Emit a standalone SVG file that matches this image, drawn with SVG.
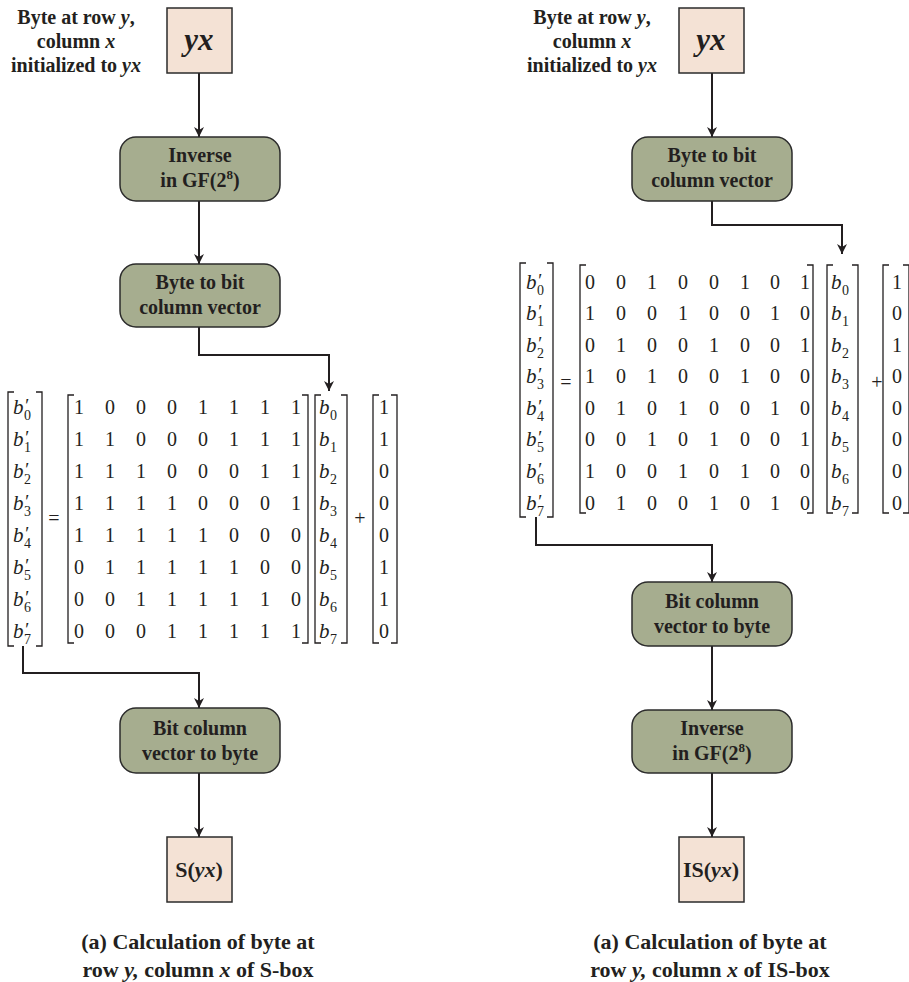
<svg xmlns="http://www.w3.org/2000/svg" width="909" height="982" viewBox="0 0 909 982">
<style>
.bx{fill:#f4e2d5;stroke:#2b2b2b;stroke-width:1.5}
.rb{fill:#a6ad8f;stroke:#2b2b2b;stroke-width:1.5}
.t{font-family:"Liberation Serif",serif;font-weight:bold;font-size:20px;fill:#231f20;text-anchor:middle}
.big{font-family:"Liberation Serif",serif;font-weight:bold;font-style:italic;font-size:31px;fill:#231f20;text-anchor:middle}
.res{font-family:"Liberation Serif",serif;font-weight:bold;font-size:22px;fill:#231f20;text-anchor:middle}
.lab{font-family:"Liberation Serif",serif;font-weight:bold;font-size:20px;fill:#231f20;text-anchor:middle}
.cap{font-family:"Liberation Serif",serif;font-weight:bold;font-size:22px;fill:#231f20;text-anchor:middle}
.m{font-family:"Liberation Serif",serif;font-size:20px;fill:#231f20;text-anchor:middle}
.v{font-family:"Liberation Serif",serif;font-size:21px;font-style:italic;fill:#231f20}
.p{font-size:19px;font-style:italic}
.s{font-size:14px;font-style:normal}
.br{fill:none;stroke:#231f20;stroke-width:1.3}
.c{fill:none;stroke:#231f20;stroke-width:2}
</style>
<defs>
<marker id="ah" viewBox="0 0 10 10" refX="10" refY="5" markerWidth="10" markerHeight="10" markerUnits="userSpaceOnUse" orient="auto">
<path d="M0,0 L10,5 L0,10 L3,5 z" fill="#231f20"/>
</marker>
</defs>

<!-- connectors -->
<g id="connectors">
<path class="c" d="M199,73 V137" marker-end="url(#ah)"/>
<path class="c" d="M199,201 V264" marker-end="url(#ah)"/>
<path class="c" d="M199,327 V355 H329 V391" marker-end="url(#ah)"/>
<path class="c" d="M23,646 V673 H199 V708" marker-end="url(#ah)"/>
<path class="c" d="M199,773 V837" marker-end="url(#ah)"/>
<path class="c" d="M712,73 V137" marker-end="url(#ah)"/>
<path class="c" d="M712,201 V225 H842 V254" marker-end="url(#ah)"/>
<path class="c" d="M536,517 V545 H712 V582" marker-end="url(#ah)"/>
<path class="c" d="M712,646 V710" marker-end="url(#ah)"/>
<path class="c" d="M712,773 V837" marker-end="url(#ah)"/>
</g>

<!-- LEFT PANEL -->
<g id="label-left">
<text class="lab" x="76" y="24">Byte at row <tspan font-style="italic">y</tspan>,</text>
<text class="lab" x="76" y="48">column <tspan font-style="italic">x</tspan></text>
<text class="lab" x="76" y="72">initialized to <tspan font-style="italic">yx</tspan></text>
</g>
<g id="yx-left">
<rect class="bx" x="167" y="8" width="65" height="65"/>
<text class="big" x="199" y="50">yx</text>
</g>
<g id="inverse-left">
<rect class="rb" x="120" y="137" width="160" height="64" rx="16"/>
<text class="t" x="200" y="162">Inverse</text>
<text class="t" x="200" y="187">in GF(2<tspan font-size="13" dy="-8">8</tspan><tspan dy="8">)</tspan></text>
</g>
<g id="b2c-left">
<rect class="rb" x="120" y="264" width="160" height="63" rx="16"/>
<text class="t" x="200" y="289">Byte to bit</text>
<text class="t" x="200" y="314">column vector</text>
</g>
<g id="matrix-left">
<path class="br" d="M14,392 H8 V646 H14 M36,392 H42 V646 H36"/>
<path class="br" d="M74,395 H68 V643 H74 M302,395 H308 V643 H302"/>
<path class="br" d="M321,395 H315 V643 H321 M341,395 H347 V643 H341"/>
<path class="br" d="M379,395 H373 V643 H379 M391,395 H397 V643 H391"/>
<text class="m" x="54" y="525">=</text>
<text class="m" x="360" y="525">+</text>
<g class="m">
<text x="79 110 141 172 203 234 265 296" y="414">10001111</text>
<text x="79 110 141 172 203 234 265 296" y="446">11000111</text>
<text x="79 110 141 172 203 234 265 296" y="478">11100011</text>
<text x="79 110 141 172 203 234 265 296" y="510">11110001</text>
<text x="79 110 141 172 203 234 265 296" y="542">11111000</text>
<text x="79 110 141 172 203 234 265 296" y="574">01111100</text>
<text x="79 110 141 172 203 234 265 296" y="606">00111110</text>
<text x="79 110 141 172 203 234 265 296" y="638">00011111</text>
<text x="384" y="414">1</text>
<text x="384" y="446">1</text>
<text x="384" y="478">0</text>
<text x="384" y="510">0</text>
<text x="384" y="542">0</text>
<text x="384" y="574">1</text>
<text x="384" y="606">1</text>
<text x="384" y="638">0</text>
</g>
<g class="v">
<text x="13" y="414">b<tspan class="p" x="24" dy="-2">′</tspan><tspan class="s" x="24" dy="8">0</tspan></text>
<text x="13" y="446">b<tspan class="p" x="24" dy="-2">′</tspan><tspan class="s" x="24" dy="8">1</tspan></text>
<text x="13" y="478">b<tspan class="p" x="24" dy="-2">′</tspan><tspan class="s" x="24" dy="8">2</tspan></text>
<text x="13" y="510">b<tspan class="p" x="24" dy="-2">′</tspan><tspan class="s" x="24" dy="8">3</tspan></text>
<text x="13" y="542">b<tspan class="p" x="24" dy="-2">′</tspan><tspan class="s" x="24" dy="8">4</tspan></text>
<text x="13" y="574">b<tspan class="p" x="24" dy="-2">′</tspan><tspan class="s" x="24" dy="8">5</tspan></text>
<text x="13" y="606">b<tspan class="p" x="24" dy="-2">′</tspan><tspan class="s" x="24" dy="8">6</tspan></text>
<text x="13" y="638">b<tspan class="p" x="24" dy="-2">′</tspan><tspan class="s" x="24" dy="8">7</tspan></text>
</g>
<g class="v">
<text x="319" y="414">b<tspan class="s" x="330" dy="6">0</tspan></text>
<text x="319" y="446">b<tspan class="s" x="330" dy="6">1</tspan></text>
<text x="319" y="478">b<tspan class="s" x="330" dy="6">2</tspan></text>
<text x="319" y="510">b<tspan class="s" x="330" dy="6">3</tspan></text>
<text x="319" y="542">b<tspan class="s" x="330" dy="6">4</tspan></text>
<text x="319" y="574">b<tspan class="s" x="330" dy="6">5</tspan></text>
<text x="319" y="606">b<tspan class="s" x="330" dy="6">6</tspan></text>
<text x="319" y="638">b<tspan class="s" x="330" dy="6">7</tspan></text>
</g>
</g>
<g id="c2b-left">
<rect class="rb" x="120" y="708" width="160" height="65" rx="16"/>
<text class="t" x="200" y="735">Bit column</text>
<text class="t" x="200" y="760">vector to byte</text>
</g>
<g id="s-left">
<rect class="bx" x="167" y="837" width="65" height="65"/>
<text class="res" x="199" y="877">S(<tspan font-style="italic">yx</tspan>)</text>
</g>
<g id="caption-left">
<text class="cap" x="198" y="949">(a) Calculation of byte at</text>
<text class="cap" x="198" y="977">row <tspan font-style="italic">y,</tspan> column <tspan font-style="italic">x</tspan> of S-box</text>
</g>

<!-- RIGHT PANEL -->
<g id="label-right">
<text class="lab" x="592" y="24">Byte at row <tspan font-style="italic">y</tspan>,</text>
<text class="lab" x="592" y="48">column <tspan font-style="italic">x</tspan></text>
<text class="lab" x="592" y="72">initialized to <tspan font-style="italic">yx</tspan></text>
</g>
<g id="yx-right">
<rect class="bx" x="679" y="8" width="65" height="65"/>
<text class="big" x="711" y="50">yx</text>
</g>
<g id="b2c-right">
<rect class="rb" x="632" y="137" width="160" height="64" rx="16"/>
<text class="t" x="712" y="162">Byte to bit</text>
<text class="t" x="712" y="187">column vector</text>
</g>
<g id="matrix-right">
<path class="br" d="M526,263 H520 V517 H526 M547,263 H553 V517 H547"/>
<path class="br" d="M586,265 H580 V513 H586 M807,265 H813 V513 H807"/>
<path class="br" d="M833,265 H827 V513 H833 M852,265 H858 V513 H852"/>
<path class="br" d="M889,265 H883 V513 H889 M903,265 H909 V513 H903"/>
<text class="m" x="566" y="389">=</text>
<text class="m" x="877" y="389">+</text>
<g class="m">
<text x="590 621 652 683 714 745 775 805" y="289">00100101</text>
<text x="590 621 652 683 714 745 775 805" y="320">10010010</text>
<text x="590 621 652 683 714 745 775 805" y="352">01001001</text>
<text x="590 621 652 683 714 745 775 805" y="383">10100100</text>
<text x="590 621 652 683 714 745 775 805" y="415">01010010</text>
<text x="590 621 652 683 714 745 775 805" y="446">00101001</text>
<text x="590 621 652 683 714 745 775 805" y="478">10010100</text>
<text x="590 621 652 683 714 745 775 805" y="510">01001010</text>
<text x="897" y="289">1</text>
<text x="897" y="320">0</text>
<text x="897" y="352">1</text>
<text x="897" y="383">0</text>
<text x="897" y="415">0</text>
<text x="897" y="446">0</text>
<text x="897" y="478">0</text>
<text x="897" y="510">0</text>
</g>
<g class="v">
<text x="526" y="289">b<tspan class="p" x="537" dy="-2">′</tspan><tspan class="s" x="537" dy="8">0</tspan></text>
<text x="526" y="320">b<tspan class="p" x="537" dy="-2">′</tspan><tspan class="s" x="537" dy="8">1</tspan></text>
<text x="526" y="352">b<tspan class="p" x="537" dy="-2">′</tspan><tspan class="s" x="537" dy="8">2</tspan></text>
<text x="526" y="383">b<tspan class="p" x="537" dy="-2">′</tspan><tspan class="s" x="537" dy="8">3</tspan></text>
<text x="526" y="415">b<tspan class="p" x="537" dy="-2">′</tspan><tspan class="s" x="537" dy="8">4</tspan></text>
<text x="526" y="446">b<tspan class="p" x="537" dy="-2">′</tspan><tspan class="s" x="537" dy="8">5</tspan></text>
<text x="526" y="478">b<tspan class="p" x="537" dy="-2">′</tspan><tspan class="s" x="537" dy="8">6</tspan></text>
<text x="526" y="510">b<tspan class="p" x="537" dy="-2">′</tspan><tspan class="s" x="537" dy="8">7</tspan></text>
</g>
<g class="v">
<text x="831" y="289">b<tspan class="s" x="842" dy="6">0</tspan></text>
<text x="831" y="320">b<tspan class="s" x="842" dy="6">1</tspan></text>
<text x="831" y="352">b<tspan class="s" x="842" dy="6">2</tspan></text>
<text x="831" y="383">b<tspan class="s" x="842" dy="6">3</tspan></text>
<text x="831" y="415">b<tspan class="s" x="842" dy="6">4</tspan></text>
<text x="831" y="446">b<tspan class="s" x="842" dy="6">5</tspan></text>
<text x="831" y="478">b<tspan class="s" x="842" dy="6">6</tspan></text>
<text x="831" y="510">b<tspan class="s" x="842" dy="6">7</tspan></text>
</g>
</g>
<g id="c2b-right">
<rect class="rb" x="632" y="582" width="160" height="64" rx="16"/>
<text class="t" x="712" y="608">Bit column</text>
<text class="t" x="712" y="633">vector to byte</text>
</g>
<g id="inverse-right">
<rect class="rb" x="632" y="710" width="160" height="63" rx="16"/>
<text class="t" x="712" y="735">Inverse</text>
<text class="t" x="712" y="760">in GF(2<tspan font-size="13" dy="-8">8</tspan><tspan dy="8">)</tspan></text>
</g>
<g id="is-right">
<rect class="bx" x="679" y="837" width="65" height="65"/>
<text class="res" x="711" y="877">IS(<tspan font-style="italic">yx</tspan>)</text>
</g>
<g id="caption-right">
<text class="cap" x="710" y="949">(a) Calculation of byte at</text>
<text class="cap" x="710" y="977">row <tspan font-style="italic">y,</tspan> column <tspan font-style="italic">x</tspan> of IS-box</text>
</g>
</svg>
